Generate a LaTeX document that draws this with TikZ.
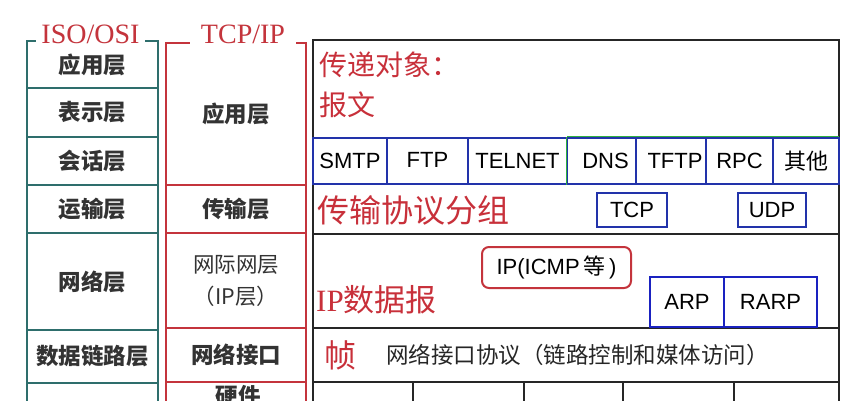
\documentclass[tikz,border=0pt]{standalone}
\usepackage{fontspec}
\setmainfont{Liberation Sans}
\newfontfamily\cjk{Noto Sans CJK SC}
\newfontfamily\serifA{Liberation Serif}
\definecolor{osi}{HTML}{2E6E6C}
\definecolor{tcpred}{HTML}{C4343C}
\definecolor{txtred}{HTML}{C8303A}
\definecolor{pblue}{HTML}{2233AA}
\definecolor{bblue}{HTML}{1A22C0}
\definecolor{pgreen}{HTML}{30B040}
\tikzset{
  osicell/.style={draw=osi, line width=2.2pt, minimum width=131pt, inner sep=0pt, font=\cjk\bfseries\fontsize{22.5}{22.5}\selectfont, text=black!80},
  tcpcell/.style={draw=tcpred, line width=1.8pt, minimum width=140pt, inner sep=0pt, align=center, font=\cjk\bfseries\fontsize{22.5}{32}\selectfont, text=black!80},
  rowcell/.style={draw=black!85, line width=1.8pt, minimum width=526pt, inner sep=0pt},
  botcell/.style={draw=black!85, line width=1.8pt, inner sep=0pt, minimum height=40pt},
  proto/.style={draw=pblue, line width=1.8pt, inner sep=0pt, minimum height=46pt, font=\fontsize{22}{22}\selectfont},
  tbox/.style={draw=pblue, line width=2.2pt, inner sep=0pt, minimum height=34pt, font=\fontsize{22}{22}\selectfont},
  abox/.style={draw=bblue, line width=2.8pt, inner sep=0pt, minimum height=50pt, font=\fontsize{22}{22}\selectfont},
  title/.style={fill=white, text=tcpred, anchor=base, font=\serifA\fontsize{28}{28}\selectfont, inner ysep=2pt},
  redtxt/.style={text=txtred, anchor=west, inner sep=0pt},
}
\begin{document}
\begin{tikzpicture}[x=1pt,y=-1pt]
\fill[white] (0,0) rectangle (856,400);
\useasboundingbox (0,0) rectangle (856,400);
% ISO/OSI column
\node[osicell, minimum height=47pt] (o1) at (92.5,64.5) {应用层};
\node[osicell, minimum height=49pt] (o2) at (92.5,112.5) {表示层};
\node[osicell, minimum height=48pt] (o3) at (92.5,161) {会话层};
\node[osicell, minimum height=48pt] (o4) at (92.5,209) {运输层};
\node[osicell, minimum height=97pt] (o5) at (92.5,281.5) {网络层};
\node[osicell, minimum height=53pt] (o6) at (92.5,356.5) {数据链路层};
\node[osicell, minimum height=34pt] (o7) at (92.5,400) {};
\node[title, inner xsep=5.5pt] (osit) at (90.5,43) {ISO/OSI};
% TCP/IP column
\node[tcpcell, minimum height=142pt] (t1) at (236,114) {\raisebox{-3pt}{应用层}};
\node[tcpcell, minimum height=48pt] (t2) at (236,209) {传输层};
\node[tcpcell, minimum height=95pt, font=\cjk\fontsize{21.5}{32}\selectfont] (t3) at (236,280.5) {网际网层\\（IP层）};
\node[tcpcell, minimum height=54pt] (t4) at (236,355) {网络接口};
\node[tcpcell, minimum height=38pt] (t5) at (236,401) {};
\node[font=\cjk\bfseries\fontsize{22.5}{22.5}\selectfont, text=black!80, inner sep=0pt] (hw) at (238,396) {硬件};
\node[title, inner xsep=11pt] (tcpt) at (243,43) {TCP/IP};
% right panel rows
\node[rowcell, minimum height=144pt] (r1) at (576,112) {};
\node[rowcell, minimum height=50pt] (r2) at (576,209) {};
\node[rowcell, minimum height=94pt] (r3) at (576,281) {};
\node[rowcell, minimum height=54pt] (r4) at (576,355) {};
\node[botcell, minimum width=100pt] (b1) at (363,402) {};
\node[botcell, minimum width=111pt] (b2) at (468.5,402) {};
\node[botcell, minimum width=99pt] (b3) at (573.5,402) {};
\node[botcell, minimum width=111pt] (b4) at (678.5,402) {};
\node[botcell, minimum width=105pt] (b5) at (786.5,402) {};
% application protocols
\draw[pgreen, line width=1pt] (567,136.5) -- (839,136.5);
\node[proto, minimum width=74pt] (smtp) at (350,161) {SMTP};
\node[proto, minimum width=81pt] (ftp) at (427.5,161) {\raisebox{2pt}{FTP}};
\node[proto, minimum width=99pt] (telnet) at (517.5,161) {TELNET};
\node[proto, minimum width=69pt] (dns) at (601.5,161) {\hspace{8pt}DNS};
\node[proto, minimum width=70pt] (tftp) at (671,161) {\hspace{8pt}TFTP};
\node[proto, minimum width=67pt] (rpc) at (739.5,161) {RPC};
\node[proto, minimum width=66pt] (other) at (806,161) {\cjk 其他};
\draw[pgreen, line width=1pt] (dns.north west) -- (dns.south west);
% transport
\node[tbox, minimum width=70pt] (tcp) at (632,210) {TCP};
\node[tbox, minimum width=68pt] (udp) at (772,210) {UDP};
% internet
\node[draw=tcpred, line width=2pt, rounded corners=7pt, minimum width=149pt, minimum height=41pt, inner sep=0pt, font=\fontsize{22}{22}\selectfont] (ip) at (556.5,267.5) {IP(ICMP\,{\cjk 等}\,)};
\node[abox, minimum width=74pt] (arp) at (687,302) {ARP};
\node[abox, minimum width=93pt] (rarp) at (770.5,302) {RARP};
% red labels
\node[redtxt, font=\cjk\fontsize{28}{28}\selectfont] (obj) at (319,65) {传递对象：};
\node[redtxt, font=\cjk\fontsize{28}{28}\selectfont] (msg) at (319,105) {报文};
\node[redtxt, font=\cjk\fontsize{32}{32}\selectfont] (seg) at (317,210) {传输协议分组};
\node[redtxt, font=\cjk\fontsize{31}{31}\selectfont] (dgram) at (316,300) {{\serifA IP}数据报};
\node[redtxt, font=\cjk\fontsize{32}{32}\selectfont] (frame) at (324,355) {帧};
\node[anchor=west, inner sep=0pt, font=\cjk\fontsize{22.5}{22.5}\selectfont, text=black!85] (nif) at (386,355) {网络接口协议（链路控制和媒体访问）};
\end{tikzpicture}
\end{document}
